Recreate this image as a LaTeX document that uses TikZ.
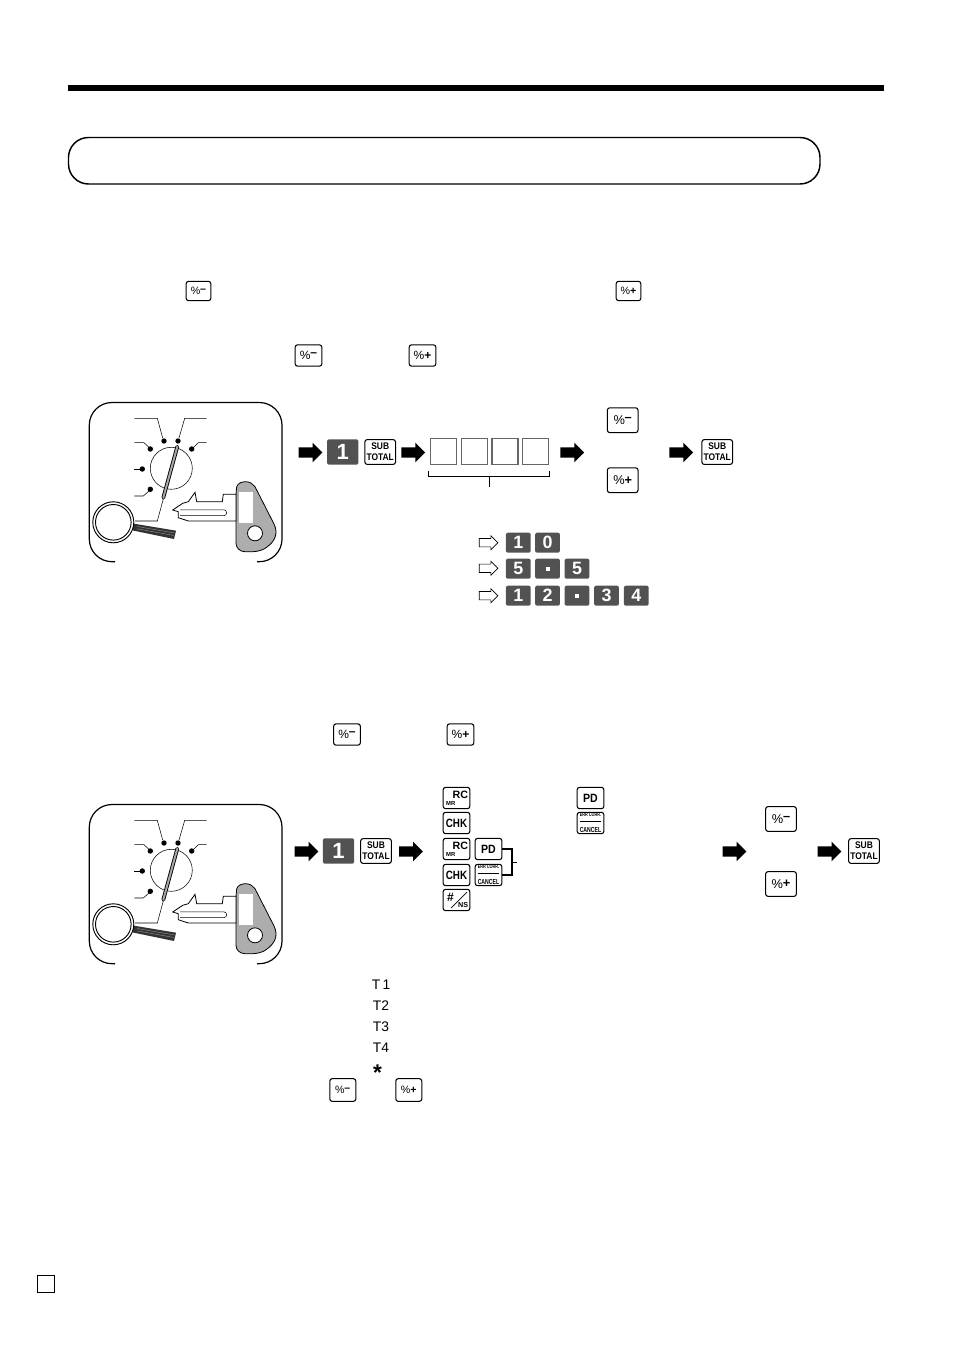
\documentclass[tikz,border=0pt]{standalone}
\usepackage{fontspec}
\setmainfont{Liberation Sans}
\usetikzlibrary{shapes.arrows}

\newcommand{\pctminus}{\%\raisebox{.24em}{\kern-.02em\bfseries--}}
\newcommand{\pctplus}{\%\raisebox{.04em}{\bfseries+}}
\newcommand{\subtext}{\scalebox{.88}[1]{\shortstack[c]{\fontsize{7.2}{7.2}\selectfont\bfseries SUB\\[.4pt]\fontsize{7.2}{7.2}\selectfont\bfseries TOTAL}}}
\newcommand{\rctext}{\makebox[0pt]{\raisebox{-.4pt}{\hspace{5.8pt}\fontsize{8}{8}\selectfont\bfseries RC}}\makebox[0pt]{\raisebox{-5.5pt}{\hspace{-8.6pt}\fontsize{4.4}{4.4}\selectfont\bfseries MR}}}
\newcommand{\nstext}{\makebox[0pt]{\raisebox{-1pt}{\hspace{-9pt}\fontsize{9}{9}\selectfont\bfseries\#}}\makebox[0pt]{\raisebox{-5.9pt}{\hspace{10pt}\fontsize{5.4}{5.4}\selectfont\bfseries NS}}}
\newcommand{\errtext}{\scalebox{.92}[1.3]{\shortstack[c]{\fontsize{3.1}{3.3}\selectfont\bfseries ERR CORR.\\[-.6pt]\rule{17pt}{.4pt}\\[.4pt]\fontsize{4.2}{4.4}\selectfont\bfseries CANCEL}}}
\newcommand{\chktext}{\scalebox{.82}[1]{\fontsize{9}{9}\selectfont\bfseries CHK}}
\newcommand{\pdtext}{\scalebox{.88}[1]{\fontsize{9}{9}\selectfont\bfseries PD}}
\newcommand{\dottext}{\rule{3pt}{3pt}}

\tikzset{
  keycap/.style={draw,fill=white,rounded corners=1.8pt,line width=.8pt,inner sep=0pt,align=center},
  keysmall/.style={keycap,minimum width=18.5pt,minimum height=14.5pt,font=\fontsize{8}{9}\selectfont},
  keymid/.style={keycap,minimum width=20pt,minimum height=16pt,font=\fontsize{9}{10}\selectfont},
  keybig/.style={keycap,minimum width=23pt,minimum height=18.6pt,font=\fontsize{9.6}{11}\selectfont},
  keyflat/.style={keymid,text height=0pt,text depth=0pt},
  numkey/.style={fill=black!68,rounded corners=1.5pt,text=white,inner sep=0pt,minimum width=18.6pt,minimum height=15pt,font=\fontsize{13.4}{14}\selectfont\bfseries},
  bignum/.style={numkey,minimum width=23.5pt,minimum height=19pt,font=\fontsize{16.5}{18}\selectfont\bfseries},
  entrybox/.style={draw=black!60,line width=.8pt,minimum size=19.5pt,inner sep=0pt},
  steparrow/.style={single arrow,fill=black,inner xsep=0pt,inner ysep=3.7pt,minimum height=17.8pt,minimum width=14.4pt,single arrow head extend=3.5pt,xshift=-1.5pt},
  hintarrow/.style={single arrow,draw,fill=white,line width=.5pt,inner xsep=0pt,inner ysep=2.1pt,minimum height=14pt,minimum width=10.5pt,single arrow head extend=1.6pt,xshift=-1pt},
  tmark/.style={inner sep=0pt,font=\fontsize{10.4}{11}\selectfont},
  modedial/.pic={
    % Mode switch frame
    \draw[line width=.9pt,rounded corners=17pt] (115,561.7) -- (89.3,561.7) -- (89.3,402.5) -- (282,402.5) -- (282,561.7) -- (257,561.7);
    % Dial and positions
    \draw[line width=.4pt] (171.3,468.3) circle (21);
    \foreach \px/\py in {164/441,178/441,150.3/449,191.7/449,142.3/469,150.3/489.3} {
      \fill (\px,\py) circle (2.7);
    }
    \draw[line width=.4pt] (134.3,418.3) -- (157.3,418.3) -- (162.7,438);
    \draw[line width=.4pt] (206.7,418.3) -- (184.7,418.3) -- (179,438);
    \draw[line width=.4pt] (134.3,442.7) -- (144,442.7) -- (149.3,447.7);
    \draw[line width=.4pt] (206.7,442.7) -- (198.3,442.7) -- (193.3,447.7);
    \draw[line width=.4pt] (134.3,469) -- (141,469);
    \draw[line width=.4pt] (134.3,496) -- (143.3,496) -- (149.3,490.7);
    \draw[line width=.4pt] (163.3,499) -- (157.3,521) -- (135,521);
    % Pointer
    \draw[line width=2.8pt,line cap=round] (177.3,446.7) -- (163.3,497.7);
    \draw[black!35,line width=1.5pt,line cap=round] (177.3,446.7) -- (163.3,497.7);
    % Magnifier
    \fill[black!80] (133,523.5) -- (176,530.7) -- (174,539) -- (133,530.5) -- cycle;
    \draw[black!45,line width=.35pt] (137,526.5) -- (174.5,533);
    \draw[black!45,line width=.35pt] (137,528.8) -- (174,535.5);
    \draw[fill=white,line width=.7pt] (113.3,522.3) circle (20.5);
    \draw[line width=.7pt] (113.3,522.3) circle (17.8);
    % Key
    \draw[fill=black!32,line width=.6pt] (236,494.3) -- (236.7,486.7) .. controls (238,483) and (242,481.7) .. (245.7,481.7) .. controls (250,481.7) and (253,484) .. (255,486.7) -- (274,524) .. controls (279,534) and (274,542) .. (267,547) .. controls (261,552) and (252,552) .. (245,551.7) .. controls (240,551.7) and (236,548) .. (236,543.3) -- (236,521) -- cycle;
    \fill[white] (239,491.7) rectangle (253.3,522.7);
    \draw[fill=white,line width=.6pt] (255,533.3) circle (7.5);
    \draw[fill=white,line width=.6pt] (172.7,510) -- (182.7,503.3) -- (188.3,501.7) -- (195,492.3) -- (196.7,501.7) -- (222.3,501.7) -- (223.3,494.3) -- (236,494.3) -- (236,521) -- (188.3,521) -- (178.3,517.7) -- (178.3,511.7) -- cycle;
    \draw[fill=white,line width=.4pt,rounded corners=2.2pt] (180,509.8) -- (226.7,509.8) -- (226.7,515.7) -- (180,515.7);
  }
}

\begin{document}
\begin{tikzpicture}[x=.75pt,y=-.75pt]
\useasboundingbox (0,0) rectangle (954,1351);

% Page header
\fill (68,85) rectangle (884,91.5);
\draw[line width=1.1pt,rounded corners=15pt] (68.5,137.5) rectangle (820,184);

% Keys in the running text
\node[keysmall] (minusA) at (198.5,291) {\pctminus};
\node[keysmall] (plusA) at (628.5,291) {\pctplus};
\node[keymid] (minusB) at (308.5,355.5) {\pctminus};
\node[keymid] (plusB) at (422.5,355.5) {\pctplus};

% First sequence
\pic at (0,0) {modedial};
\node[steparrow] (goA) at (310,452.5) {};
\node[bignum] (oneA) at (342.7,452) {1};
\node[keybig] (subA) at (380.2,452) {\subtext};
\node[steparrow] (goB) at (412.7,452.5) {};
\node[entrybox] (digitA) at (443.3,451.3) {};
\node[entrybox] (digitB) at (474.3,451.3) {};
\node[entrybox] (digitC) at (505,451.3) {};
\node[entrybox] (digitD) at (535.7,451.3) {};
\coordinate (bracketL) at (428.3,471);
\coordinate (bracketR) at (549.3,471);
\coordinate (bracketM) at (489.3,476.3);
\coordinate (bracketS) at (489.3,487);
\draw[line width=.7pt] (bracketL) |- (bracketM) -| (bracketR);
\draw[line width=.7pt] (bracketM) -- (bracketS);
\node[steparrow] (goC) at (571.7,452.5) {};
\node[keybig] (minusC) at (622.7,420.2) {\pctminus};
\node[keybig] (plusC) at (622.7,480.2) {\pctplus};
\node[steparrow] (goD) at (680.7,452.5) {};
\node[keybig] (subB) at (717.2,452) {\subtext};

% Input examples
\node[hintarrow] (hintA) at (487.8,542.7) {};
\node[numkey] (exA) at (518.3,542.7) {1};
\node[numkey] (exB) at (547.5,542.7) {0};
\node[hintarrow] (hintB) at (487.8,568.3) {};
\node[numkey] (exC) at (518.3,568.7) {5};
\node[numkey] (exD) at (547.5,568.7) {\dottext};
\node[numkey] (exE) at (577,568.7) {5};
\node[hintarrow] (hintC) at (487.8,595.7) {};
\node[numkey] (exF) at (518.3,595.7) {1};
\node[numkey] (exG) at (547.5,595.7) {2};
\node[numkey] (exH) at (577,595.7) {\dottext};
\node[numkey] (exI) at (606.5,595.7) {3};
\node[numkey] (exJ) at (636.3,595.7) {4};

% Second text line
\node[keymid] (minusD) at (347,734.5) {\pctminus};
\node[keymid] (plusD) at (460.5,734.5) {\pctplus};

% Second sequence
\pic at (0,402) {modedial};
\node[steparrow] (goE) at (306,851.5) {};
\node[bignum] (oneB) at (338.5,851) {1};
\node[keybig] (subC) at (376,851) {\subtext};
\node[steparrow] (goF) at (410.5,851.5) {};
\node[keyflat] (rcA) at (456.5,798) {\rctext};
\node[keymid] (chkA) at (456.5,823) {\chktext};
\node[keyflat] (rcB) at (456.5,849) {\rctext};
\node[keymid] (pdB) at (488.5,849) {\pdtext};
\node[keymid] (chkB) at (456.5,875) {\chktext};
\node[keymid] (errB) at (488.5,875) {\errtext};
\node[keyflat] (nsA) at (456.5,900) {\nstext};
\draw[line width=.5pt] ([xshift=-4pt,yshift=-6pt]nsA.center) -- ([xshift=8pt,yshift=6pt]nsA.center);
\node[keymid] (pdA) at (590.5,798) {\pdtext};
\node[keymid] (errA) at (590.5,823) {\errtext};
\coordinate (braceB) at (512,862);
\coordinate (stemB) at (517,862);
\draw[line width=.8pt] (pdB.east) -| (braceB) |- (errB.east);
\draw[line width=.5pt] (braceB) -- (stemB);
\node[steparrow] (goG) at (734,851.5) {};
\node[keybig] (minusE) at (781,819) {\pctminus};
\node[keybig] (plusE) at (781,884) {\pctplus};
\node[steparrow] (goH) at (829,851.5) {};
\node[keybig] (subD) at (864,851) {\subtext};

% Printed marks
\node[tmark] (markA) at (381,984.5) {T\,1};
\node[tmark] (markB) at (381,1006) {T2};
\node[tmark] (markC) at (381,1027) {T3};
\node[tmark] (markD) at (381,1048) {T4};
\node[tmark,text height=0pt,text depth=0pt] (markE) at (377.5,1080.5) {\fontsize{17}{17}\selectfont\bfseries *};
\node[keysmall,minimum width=19.5pt,minimum height=17pt] (minusF) at (342.8,1090) {\pctminus};
\node[keysmall,minimum width=19.5pt,minimum height=17pt] (plusF) at (408.8,1090) {\pctplus};

% Page number box
\draw[line width=1pt] (37.5,1275.5) rectangle (54.5,1292.5);
\end{tikzpicture}
\end{document}
